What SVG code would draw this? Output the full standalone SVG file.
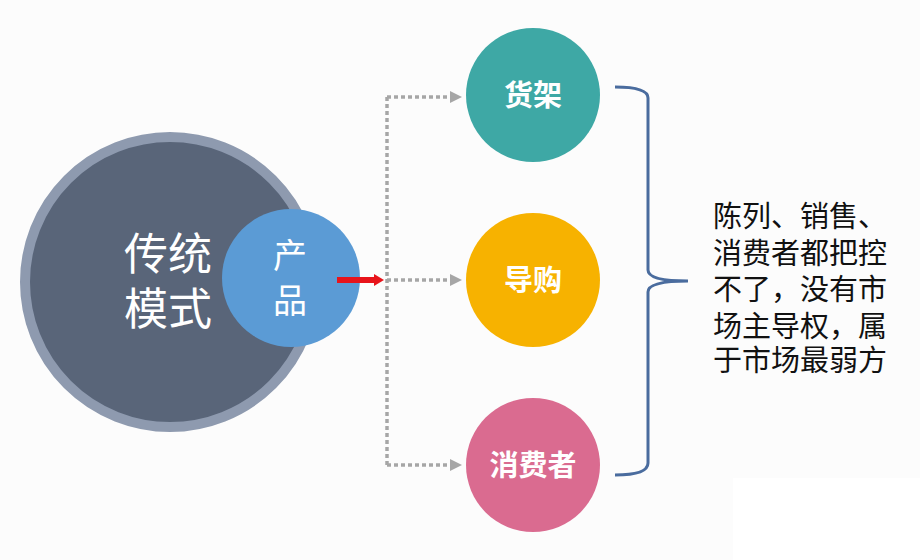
<svg xmlns="http://www.w3.org/2000/svg" width="920" height="560" viewBox="0 0 920 560">
<defs>
<style>
.lbl{font-family:"Noto Sans CJK SC","Noto Sans",sans-serif;fill:#ffffff;text-anchor:middle}
.bold{font-weight:bold;font-size:29px}
.dot{fill:none;stroke:#A6A6A6;stroke-width:3.5;stroke-dasharray:4 3}
.desc{font-family:"Noto Sans CJK SC","Noto Sans",sans-serif;font-size:29px;fill:#111111}
</style>
<marker id="grayHead" markerWidth="12" markerHeight="12" refX="2" refY="6" orient="auto" markerUnits="userSpaceOnUse">
<path d="M0,0 L12,6 L0,12 Z" fill="#A6A6A6"/>
</marker>
<marker id="redHead" markerWidth="12" markerHeight="14" refX="4" refY="7" orient="auto" markerUnits="userSpaceOnUse">
<path d="M0,1 L10,7 L0,13 Z" fill="#E8141B"/>
</marker>
</defs>
<rect width="920" height="560" fill="#FCFCFC"/>
<rect x="733" y="478" width="187" height="82" fill="#FFFFFF"/>

<g id="node-traditional">
<circle cx="170" cy="282" r="145" fill="#596579" stroke="#8E9AAF" stroke-width="10"/>
<text class="lbl" x="168" y="270" font-size="44">传统</text>
<text class="lbl" x="168" y="325" font-size="44">模式</text>
</g>

<g id="node-product">
<circle cx="291" cy="278" r="69" fill="#5B9BD5"/>
<text class="lbl" x="290" y="268" font-size="34">产</text>
<text class="lbl" x="290" y="313" font-size="34">品</text>
</g>

<g id="connectors">
<path class="dot" d="M387,97 V465"/>
<path class="dot" d="M387,97 H452" marker-end="url(#grayHead)"/>
<path class="dot" d="M387,280 H452" marker-end="url(#grayHead)"/>
<path class="dot" d="M387,465 H452" marker-end="url(#grayHead)"/>
<path d="M337,280 H378" stroke="#E8141B" stroke-width="6" fill="none" marker-end="url(#redHead)"/>
</g>

<g id="node-shelf">
<circle cx="533" cy="95" r="67" fill="#3EA8A5"/>
<text class="lbl bold" x="533" y="106">货架</text>
</g>

<g id="node-guide">
<circle cx="533" cy="280" r="67" fill="#F7B200"/>
<text class="lbl bold" x="533" y="291">导购</text>
</g>

<g id="node-consumer">
<circle cx="533" cy="465" r="67" fill="#DA6B90"/>
<text class="lbl bold" x="533" y="476">消费者</text>
</g>

<g id="brace">
<path d="M615,87 Q648,87 648,98 V270 Q648,281 688,281 Q648,281 648,292 V463 Q648,475 615,475" fill="none" stroke="#4A6C9E" stroke-width="3"/>
</g>

<g id="description">
<text class="desc" x="713" y="227">陈列、销售、</text>
<text class="desc" x="713" y="264">消费者都把控</text>
<text class="desc" x="713" y="300">不了，没有市</text>
<text class="desc" x="713" y="337">场主导权，属</text>
<text class="desc" x="713" y="371">于市场最弱方</text>
</g>
</svg>
